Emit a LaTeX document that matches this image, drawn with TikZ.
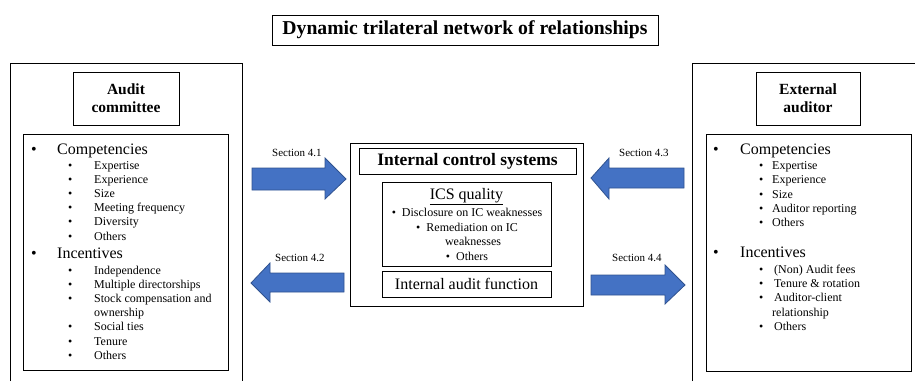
\documentclass[tikz,border=0pt]{standalone}
\usepackage{fontspec}
\setmainfont{Liberation Serif}
\definecolor{arrowfill}{HTML}{4472C4}
\definecolor{arrowdraw}{HTML}{2F528F}
\newcommand\setfs[1]{\fontsize{#1}{#1}\selectfont}
\newcommand\setfsl[2]{\fontsize{#1}{#2}\selectfont}
\begin{document}
\begin{tikzpicture}[x=1pt,y=-1pt,
  frame/.style={draw=black,line width=0.8pt},
  framebox/.style={frame,inner sep=0,anchor=north west},
  txt/.style={inner sep=0,anchor=base west},
  ctxt/.style={inner sep=0,anchor=base},
  mainitem/.style={txt,font=\setfs{16}},
  subitem/.style={txt,font=\setfs{12}},
  seclabel/.style={txt,font=\setfs{11}},
  blockarrow/.style={fill=arrowfill,draw=arrowdraw,line width=0.8pt,line join=miter}]
\useasboundingbox (0,0) rectangle (915,381);

% title
\node[frame,minimum width=386,minimum height=30,inner sep=0,font=\bfseries\setfs{19.7}] (title) at (465,30) {Dynamic trilateral network of relationships};

% ---------- left: audit committee ----------
\draw[frame] (10,381) -- (10,63) -- (242,63) -- (242,381);
\node[frame,minimum width=106,minimum height=53,inner sep=0,align=center,font=\bfseries\setfsl{15.5}{18}] (ac) at (126,98.5) {Audit\\committee};
\node[framebox,minimum width=205,minimum height=236] (llist) at (23,134) {};
\node[mainitem] (lb1) at (31,154) {•};
\node[mainitem] (lcomp) at (57,154) {Competencies};
\foreach \t/\y [count=\i] in {Expertise/169,Experience/183,Size/197,Meeting frequency/211,Diversity/225,Others/240}{
  \node[subitem] (lcb\i) at (68,\y) {•};
  \node[subitem] (lct\i) at (94,\y) {\t};
}
\node[mainitem] (lb2) at (31,258) {•};
\node[mainitem] (linc) at (57,258) {Incentives};
\foreach \t/\y [count=\i] in {Independence/274,Multiple directorships/288,Stock compensation and/302,Social ties/330,Tenure/345,Others/359}{
  \node[subitem] (lib\i) at (68,\y) {•};
  \node[subitem] (lit\i) at (94,\y) {\t};
}
\node[subitem] (lown) at (94,316) {ownership};

% ---------- right: external auditor ----------
\draw[frame] (692,381) -- (692,63) -- (915,63);
\node[frame,minimum width=104,minimum height=53,inner sep=0,align=center,font=\bfseries\setfsl{15.5}{18}] (ea) at (808,98.5) {External\\auditor};
\node[framebox,minimum width=205,minimum height=237] (rlist) at (706,134) {};
\node[mainitem] (rb1) at (713,154) {•};
\node[mainitem] (rcomp) at (740,154) {Competencies};
\foreach \t/\y [count=\i] in {Expertise/169,Experience/183,Size/198,Auditor reporting/212,Others/226}{
  \node[subitem] (rcb\i) at (759,\y) {•};
  \node[subitem] (rct\i) at (772,\y) {\t};
}
\node[mainitem] (rb2) at (713,257) {•};
\node[mainitem] (rinc) at (740,257) {Incentives};
\foreach \t/\y [count=\i] in {(Non) Audit fees/273,Tenure \& rotation/287,Auditor-client/301,Others/330}{
  \node[subitem] (rib\i) at (759,\y) {•};
  \node[subitem] (rit\i) at (774,\y) {\t};
}
\node[subitem] (rrel) at (772,316) {relationship};

% ---------- centre: internal control systems ----------
\node[framebox,minimum width=233,minimum height=163] (ics) at (350,143) {};
\node[frame,minimum width=217,minimum height=26,inner sep=0,font=\bfseries\setfs{17.5}] (icstitle) at (467.5,161) {Internal control systems};
\node[framebox,minimum width=169,minimum height=84] (icsq) at (382,182) {};
\node[ctxt,font=\setfs{16}] (icsqt) at (466.5,199.5) {\underline{ICS quality}};
\node[ctxt,font=\setfs{12}] (icsq1) at (467,216) {•\hspace{6pt}Disclosure on IC weaknesses};
\node[ctxt,font=\setfs{12}] (icsq2) at (467,231) {•\hspace{6pt}Remediation on IC};
\node[ctxt,font=\setfs{12}] (icsq3) at (473,245) {weaknesses};
\node[ctxt,font=\setfs{12}] (icsq4) at (467,260) {•\hspace{6pt}Others};
\node[frame,minimum width=169,minimum height=26,inner sep=0,font=\setfs{16}] (iaf) at (466.5,284) {Internal audit function};

% ---------- block arrows ----------
\draw[blockarrow] (252,168) -- (325,168) -- (325,158) -- (346,179) -- (325,199) -- (325,190) -- (252,190) -- cycle;
\node[seclabel] (s41) at (272,156) {Section 4.1};
\draw[blockarrow] (344,273) -- (270,273) -- (270,263) -- (251,283) -- (270,302) -- (270,292) -- (344,292) -- cycle;
\node[seclabel] (s42) at (275,261) {Section 4.2};
\draw[blockarrow] (684,168) -- (609,168) -- (609,158) -- (591,178) -- (609,199) -- (609,188) -- (684,188) -- cycle;
\node[seclabel] (s43) at (619,156) {Section 4.3};
\draw[blockarrow] (591,275) -- (665,275) -- (665,265) -- (685,285) -- (665,304) -- (665,295) -- (591,295) -- cycle;
\node[seclabel] (s44) at (612,261) {Section 4.4};
\end{tikzpicture}
\end{document}
